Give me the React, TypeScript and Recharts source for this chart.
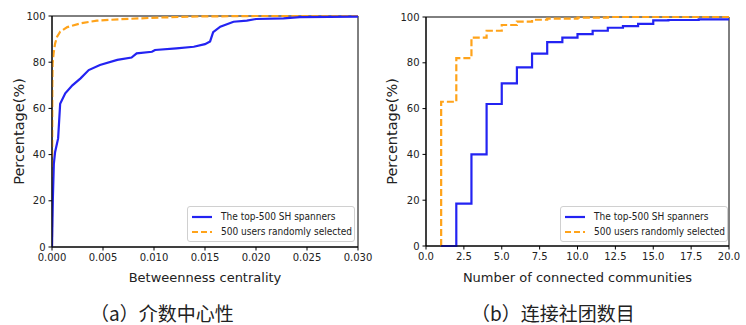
import { LineChart, Line, XAxis, YAxis, ReferenceArea } from "recharts";

// (a) betweenness centrality CDF
const btwTopX = [0, 0.00008, 0.00018, 0.0003, 0.0006, 0.0008, 0.0013, 0.002, 0.0028, 0.0036, 0.0047, 0.0064, 0.0078, 0.0083, 0.0098, 0.0101, 0.0122, 0.0139, 0.015, 0.0155, 0.0158, 0.0165, 0.0178, 0.0191, 0.02, 0.0227, 0.0243, 0.03];
const btwTopY = [0, 20, 36, 41, 47, 62, 66.5, 70, 73, 76.6, 78.8, 81, 82, 83.8, 84.5, 85.3, 86, 86.7, 87.8, 89, 93, 95.4, 97.5, 98, 98.7, 99, 99.5, 99.7];
const btwRandX = [0, 0.00003, 0.00006, 0.00016, 0.0003, 0.0005, 0.0008, 0.0015, 0.0028, 0.0044, 0.0067, 0.0087, 0.011, 0.0145, 0.02, 0.03];
const btwRandY = [0, 70, 79.5, 84, 88, 91, 93.2, 95.2, 96.8, 98, 98.6, 99, 99.4, 99.8, 100, 100];

// (b) number of connected communities CDF (step)
const comTopX = [1, 2, 3, 4, 5, 6, 7, 8, 9, 10, 11, 12, 13, 14, 15, 16, 18, 20];
const comTopY = [0, 18.5, 40, 62, 71, 78, 84, 89, 91, 92.5, 94, 95.3, 96, 97, 98.5, 98.7, 99, 99];
const comRandX = [1, 1, 2, 3, 4, 5, 6, 7, 8, 10, 12, 20];
const comRandY = [0, 63, 82, 91, 94, 96.5, 98, 98.8, 99.3, 99.7, 100, 100];

const btwTicks = [0, 0.005, 0.01, 0.015, 0.02, 0.025, 0.03];
const comTicks = [0, 2.5, 5, 7.5, 10, 12.5, 15, 17.5, 20];
const pctTicks = [0, 20, 40, 60, 80, 100];

const seriesNames = ["The top-500 SH spanners", "500 users randomly selected"];

const BLUE = "#2323f2";
const ORANGE = "#ffa31a";
const FONT = "'DejaVu Sans', sans-serif";

const zip = (xs: number[], ys: number[]) => xs.map((x, i) => ({ x, y: ys[i] }));

const tickStyle = { fontSize: 10, fill: "#222", fontFamily: FONT };
const axisLabelStyle = { fontSize: 13, fill: "#222", fontFamily: FONT };

const YLabel = (props: any) => {
  const vb = props.viewBox;
  const cx = vb.x + 19;
  const cy = vb.y + vb.height / 2;
  return (
    <text x={cx} y={cy} transform={`rotate(-90 ${cx} ${cy})`} textAnchor="middle" dominantBaseline="central"
      style={{ fontSize: 14.5, fill: "#222", fontFamily: FONT }}>
      Percentage(%)
    </text>
  );
};

const LegendBox = ({ left, top }: { left: number; top: number }) => (
  <div style={{
    position: "absolute", left, top, width: 166, height: 34, border: "1px solid #d0d0d0",
    borderRadius: 3, background: "rgba(255,255,255,0.85)", fontFamily: FONT, fontSize: 11, color: "#222",
    whiteSpace: "nowrap", overflow: "visible",
  }}>
    {seriesNames.map((name, i) => (
      <div key={name} style={{ display: "flex", alignItems: "center", height: 15, marginTop: i === 0 ? 2 : 0 }}>
        <svg width={24} height={6} style={{ marginLeft: 4, marginRight: 5, flexShrink: 0 }}>
          <line x1={0} y1={3} x2={20} y2={3} stroke={i === 0 ? BLUE : ORANGE} strokeWidth={2.2}
            strokeDasharray={i === 0 ? undefined : "6 3"} />
        </svg>
        <span style={{ display: "inline-block", transform: "scaleX(0.82)", transformOrigin: "left center" }}>{name}</span>
      </div>
    ))}
  </div>
);

const Caption = ({ left, text }: { left: number; text: string }) => (
  <div style={{
    position: "absolute", left, top: 301, fontSize: 19, color: "#222", whiteSpace: "nowrap",
    fontFamily: "'Noto Sans CJK SC', sans-serif", lineHeight: "24px",
  }}>{text}</div>
);

export default function App() {
  return (
    <div style={{ position: "absolute", left: 0, top: 0, width: 746, height: 325, background: "#fff" }}>
      <div style={{ position: "absolute", left: 0, top: 0 }}>
        <LineChart width={373} height={290} margin={{ top: 16, right: 15, left: 0, bottom: 0 }}>
          <XAxis type="number" dataKey="x" domain={[0, 0.03]} ticks={btwTicks} allowDataOverflow
            tickFormatter={(v: number) => v.toFixed(3)} height={43} tick={tickStyle}
            tickSize={3.5} tickMargin={3} stroke="#000"
            label={{ value: "Betweenness centrality", position: "insideBottom", offset: 8, style: axisLabelStyle }} />
          <YAxis type="number" domain={[0, 100]} ticks={pctTicks} width={52} tick={tickStyle}
            tickSize={3.5} tickMargin={3} stroke="#000" label={<YLabel />} />
          <Line data={zip(btwRandX, btwRandY)} dataKey="y" type="linear" stroke={ORANGE} strokeWidth={2.2}
            strokeDasharray="7 3" dot={false} isAnimationActive={false} />
          <Line data={zip(btwTopX, btwTopY)} dataKey="y" type="linear" stroke={BLUE} strokeWidth={2.2}
            dot={false} isAnimationActive={false} />
          <ReferenceArea x1={0} x2={0.03} y1={0} y2={100} fill="none" stroke="#000" strokeWidth={1} />
        </LineChart>
      </div>
      <div style={{ position: "absolute", left: 373, top: 0 }}>
        <LineChart width={373} height={289} margin={{ top: 17, right: 17, left: 0, bottom: 0 }}>
          <XAxis type="number" dataKey="x" domain={[0, 20]} ticks={comTicks} allowDataOverflow
            tickFormatter={(v: number) => v.toFixed(1)} height={43} tick={tickStyle}
            tickSize={3.5} tickMargin={3} stroke="#000"
            label={{ value: "Number of connected communities", position: "insideBottom", offset: 7, style: axisLabelStyle }} />
          <YAxis type="number" domain={[0, 100]} ticks={pctTicks} width={53} tick={tickStyle}
            tickSize={3.5} tickMargin={3} stroke="#000" label={<YLabel />} />
          <Line data={zip(comRandX, comRandY)} dataKey="y" type="stepAfter" stroke={ORANGE} strokeWidth={2.2}
            strokeDasharray="7 3" dot={false} isAnimationActive={false} />
          <Line data={zip(comTopX, comTopY)} dataKey="y" type="stepAfter" stroke={BLUE} strokeWidth={2.2}
            dot={false} isAnimationActive={false} />
          <ReferenceArea x1={0} x2={20} y1={0} y2={100} fill="none" stroke="#000" strokeWidth={1} />
        </LineChart>
      </div>
      <LegendBox left={187} top={206} />
      <LegendBox left={560} top={206} />
      <Caption left={90} text="（a）介数中心性" />
      <Caption left={471} text="（b）连接社团数目" />
    </div>
  );
}
